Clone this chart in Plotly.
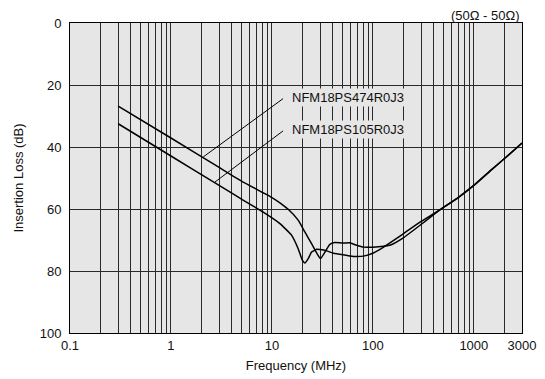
import math
import plotly.graph_objects as go

# Insertion loss curves (frequency in MHz, loss in dB)
f474 = [0.3, 1, 3, 5, 8, 10, 12, 14.5, 18.2, 21.2, 24.7, 28, 30.3, 33.5, 37.5, 42, 50, 59, 69, 81,
        100, 128, 150, 200, 300, 400, 500, 700, 1000, 1500, 2000, 3000]
d474 = [26.8, 37.1, 46.6, 51.0, 54.6, 56.3, 58.0, 60.1, 63.6, 67.4, 71.2, 74.4, 76.0, 73.9, 71.4, 70.8, 71.0, 70.9, 71.7, 72.3,
        72.3, 72.0, 71.6, 69.3, 65.0, 61.8, 59.5, 56.3, 52.4, 47.3, 43.8, 38.7]

f105 = [0.3, 1, 3, 5, 8.2, 12, 15.7, 18.2, 20, 21.2, 22.9, 24.7, 27.7, 30, 34.8, 40, 47, 64, 81,
        101, 128, 150, 200, 300, 400, 500, 700, 1000, 1500, 2000, 3000]
d105 = [32.5, 42.9, 52.4, 56.8, 61.0, 64.7, 68.5, 72.8, 76.5, 77.4, 76.0, 73.9, 73.0, 73.1, 73.5, 74.2, 74.6, 75.3, 75.2,
        74.2, 72.3, 70.8, 68.0, 64.0, 61.5, 59.5, 56.3, 52.4, 47.3, 43.8, 38.7]

label474 = "NFM18PS474R0J3"
label105 = "NFM18PS105R0J3"
lead474_f = [2.09, 12.9]
lead474_db = [43.2, 24.4]
lead105_f = [2.73, 12.9]
lead105_db = [51.3, 34.8]
label_f = 15.0
label474_db = 24.1
label105_db = 34.4

x_tickvals = [0.1, 1, 10, 100, 1000, 3000]
x_ticktext = ["0.1", "1", "10", "100", "1000", "3000"]
x_minor = [m * 10 ** e for e in range(-1, 4) for m in range(2, 10) if m * 10 ** e < 3000]
y_tickvals = [0, 20, 40, 60, 80, 100]

FONT = "Liberation Sans, Arial, sans-serif"
GRID = "#2a2a2a"

fig = go.Figure()
line_style = dict(color="black", width=1.5, shape="spline", smoothing=0.4)
fig.add_trace(go.Scatter(x=f474, y=d474, mode="lines", line=line_style, name=label474))
fig.add_trace(go.Scatter(x=f105, y=d105, mode="lines", line=line_style, name=label105))
fig.add_trace(go.Scatter(x=lead474_f, y=lead474_db, mode="lines", line=dict(color="black", width=1)))
fig.add_trace(go.Scatter(x=lead105_f, y=lead105_db, mode="lines", line=dict(color="black", width=1)))

for txt, yv in [(label474, label474_db), (label105, label105_db)]:
    fig.add_annotation(x=math.log10(label_f), y=yv, xref="x", yref="y", text=txt, showarrow=False,
                       xanchor="left", yanchor="middle", bgcolor="#e6e6e6", borderpad=1,
                       font=dict(family=FONT, size=13, color="#111"))

fig.add_annotation(x=1, y=1.025, xref="paper", yref="paper", text="(50\u03a9 - 50\u03a9)", showarrow=False,
                   xanchor="right", yanchor="middle", font=dict(family=FONT, size=13, color="#111"))

fig.update_xaxes(type="log", range=[math.log10(0.1), math.log10(3000)], automargin=False,
                 tickvals=x_tickvals, ticktext=x_ticktext, ticks="",
                 showgrid=True, gridcolor=GRID, gridwidth=1,
                 minor=dict(tickvals=x_minor, showgrid=True, gridcolor=GRID, gridwidth=1, ticks=""),
                 showline=True, linecolor="black", linewidth=1, mirror=True, zeroline=False,
                 title=dict(text="Frequency (MHz)", font=dict(family=FONT, size=13, color="#111"), standoff=9),
                 tickfont=dict(family=FONT, size=13, color="#111"))
fig.update_yaxes(range=[100, 0], tickvals=y_tickvals, ticks="", automargin=False, ticklabelstandoff=5,
                 showgrid=True, gridcolor=GRID, gridwidth=1,
                 showline=True, linecolor="black", linewidth=1, mirror=True, zeroline=False,
                 title=dict(text="Insertion Loss (dB)", font=dict(family=FONT, size=13, color="#111"), standoff=13),
                 tickfont=dict(family=FONT, size=13, color="#111"))

# page body adds an 8px offset; size the figure so the plot area lands where the reference has it
fig.update_layout(width=537, height=371, margin=dict(l=62, r=23, t=15, b=46),
                  paper_bgcolor="white", plot_bgcolor="#e6e6e6", showlegend=False,
                  font=dict(family=FONT, size=13, color="#111"))

fig.write_html("out.html")
